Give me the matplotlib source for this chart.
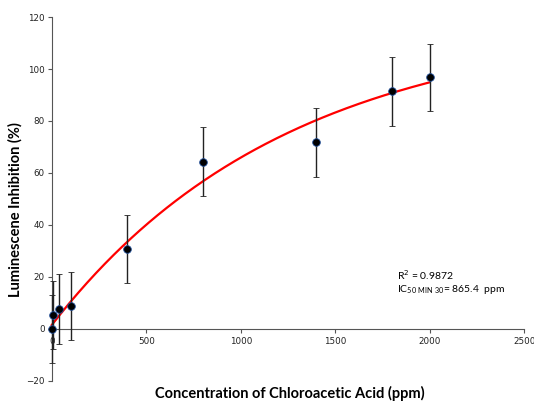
import numpy as np
import matplotlib
matplotlib.use("Agg")
import matplotlib.pyplot as plt

# Data
conc = [0, 5, 40, 100, 400, 800, 1400, 1800, 2000]
inhibition = [0.0, 5.4, 7.7, 8.9, 30.8, 64.3, 71.8, 91.4, 96.8]
err = [13.0, 13.0, 13.3, 13.1, 13.0, 13.3, 13.2, 13.2, 13.0]

# Fitted curve parameters (saturating exponential)
fit_A = 117.0
fit_k = 0.0008
fit_c = 1.5
fit_xmax = 2000

xticks = [0, 500, 1000, 1500, 2000, 2500]
yticks = [-20, 0, 20, 40, 60, 80, 100, 120]

fig = plt.figure(figsize=(5.34, 4.01), dpi=100)
ax = fig.add_axes([0.0968, 0.0499, 0.885, 0.9077])

xf = np.linspace(0, fit_xmax, 300)
yf = fit_c + fit_A * (1 - np.exp(-fit_k * xf))
ax.plot(xf, yf, color="#ff0000", lw=1.6, zorder=2, clip_on=False)

ax.errorbar(conc, inhibition, yerr=err, fmt="o", color="black",
            ecolor="#222222", elinewidth=1.0, capsize=2.5, capthick=1.0,
            markersize=5.5, markerfacecolor="black", markeredgecolor="#1f4e9a",
            markeredgewidth=0.6, zorder=3, clip_on=False)

ax.set_xlim(0, 2500)
ax.set_ylim(-20, 120)
ax.set_xticks(xticks)
ax.set_yticks(yticks)
ax.spines["top"].set_visible(False)
ax.spines["right"].set_visible(False)
ax.spines["bottom"].set_position(("data", 0))
for s in ("left", "bottom"):
    ax.spines[s].set_color("#555555")
    ax.spines[s].set_linewidth(0.8)
ax.tick_params(axis="both", direction="out", length=3, width=0.8,
               color="#555555", labelsize=6.3, labelcolor="#222222", pad=2)
ax.tick_params(axis="x", pad=3)

ax.text(-0.077, 0.47, "Luminescene Inhibition (%)", transform=ax.transAxes,
        rotation=90, ha="center", va="center", fontsize=10.5,
        fontweight="bold", family="Lato")
fig.text(0.543, 0.018, "Concentration of Chloroacetic Acid (ppm)",
         ha="center", va="center", fontsize=10.5, fontweight="bold",
         family="Lato")

ax.text(0.731, 0.291, r"R$^{2}$ = 0.9872", transform=ax.transAxes,
        fontsize=7.5, family="Lato", ha="left", va="center")
ax.text(0.731, 0.250, r"IC$_{\mathregular{50\ MIN\ 30}}$= 865.4  ppm",
        transform=ax.transAxes, fontsize=7.5, family="Lato", ha="left",
        va="center")

fig.savefig("out.png", dpi=100)
